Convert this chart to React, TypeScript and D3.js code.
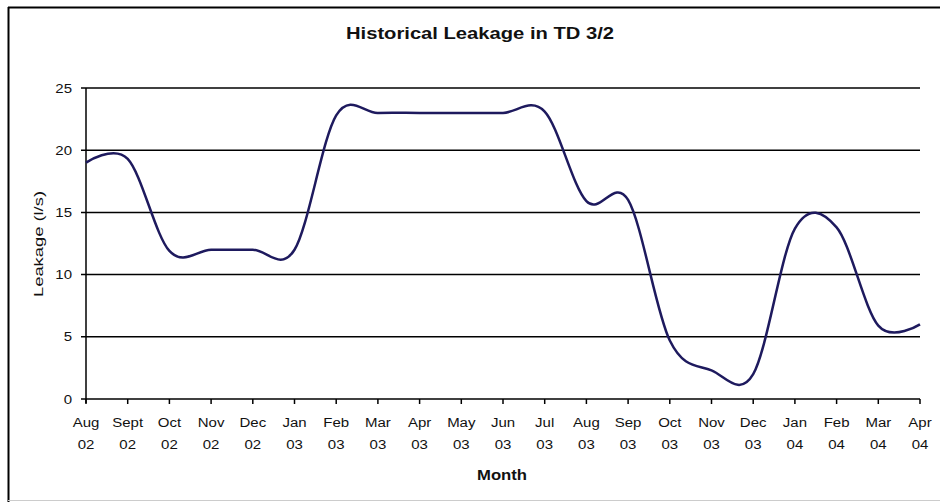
import React from "react";
import * as d3 from "d3";

const months = ["Aug","Sept","Oct","Nov","Dec","Jan","Feb","Mar","Apr","May","Jun","Jul","Aug","Sep","Oct","Nov","Dec","Jan","Feb","Mar","Apr"];
const years = ["02","02","02","02","02","03","03","03","03","03","03","03","03","03","03","03","03","04","04","04","04"];
const leakage = [19, 19.3, 11.9, 12, 12, 12, 22.8, 23, 23, 23, 23, 23.1, 15.9, 16.0, 4.7, 2.3, 2.0, 13.7, 13.8, 5.9, 6];
const yTicks = [0, 5, 10, 15, 20, 25];
const title = "Historical Leakage in TD 3/2";
const yTitle = "Leakage (l/s)";
const xTitle = "Month";

export default function App() {
  const W = 940, H = 502;
  const left = 86, right = 920, top = 88, bottom = 399;
  const x = d3.scaleLinear().domain([0, months.length - 1]).range([left, right]);
  const y = d3.scaleLinear().domain([0, 25]).range([bottom, top]);
  const line = d3.line<number>().x((_, i) => x(i)).y(d => y(d)).curve(d3.curveCatmullRom.alpha(0));
  const font = "Arial, 'Liberation Sans', sans-serif";
  const sx = 1.25;
  return (
    <svg width={W} height={H} style={{ position: "absolute", left: 0, top: 0, background: "#fff" }}>
      <rect x={0} y={0} width={W} height={H} fill="#fff" />
      <line x1={8.5} y1={7} x2={8.5} y2={502} stroke="#000" strokeWidth={2} />
      <line x1={8} y1={7.5} x2={940} y2={7.5} stroke="#000" strokeWidth={2} />
      <line x1={8} y1={500.5} x2={940} y2={500.5} stroke="#ccc" strokeWidth={1} />
      <text x={480} y={39} textAnchor="middle" fontFamily={font} fontWeight="bold" fontSize={16} fill="#111"
        textLength={268} lengthAdjust="spacingAndGlyphs">{title}</text>
      {yTicks.map(t => (
        <g key={t}>
          <line x1={left - 5} x2={right} y1={y(t)} y2={y(t)} stroke="#000" strokeWidth={1.5} />
          <text transform={`translate(${left - 14},${y(t) + 4.5}) scale(${sx},1)`} textAnchor="end" fontFamily={font} fontSize={12} fill="#111">{t}</text>
        </g>
      ))}
      <line x1={left} x2={left} y1={top} y2={bottom + 4} stroke="#000" strokeWidth={1.5} />
      {months.map((m, i) => (
        <g key={i}>
          <line x1={x(i)} x2={x(i)} y1={bottom} y2={bottom + 5} stroke="#000" strokeWidth={1.5} />
          <text transform={`translate(${x(i)},${427}) scale(${sx},1)`} textAnchor="middle" fontFamily={font} fontSize={12} fill="#111">{m}</text>
          <text transform={`translate(${x(i)},${449}) scale(${sx},1)`} textAnchor="middle" fontFamily={font} fontSize={12} fill="#111">{years[i]}</text>
        </g>
      ))}
      <path d={line(leakage) || ""} fill="none" stroke="#1e1a5e" strokeWidth={2.5} />
      <text transform={`translate(43,244) rotate(-90)`} textAnchor="middle" fontFamily={font} fontSize={12} fill="#111"
        textLength={106} lengthAdjust="spacingAndGlyphs">{yTitle}</text>
      <text x={502} y={480} textAnchor="middle" fontFamily={font} fontWeight="bold" fontSize={14} fill="#111"
        textLength={50} lengthAdjust="spacingAndGlyphs">{xTitle}</text>
    </svg>
  );
}
